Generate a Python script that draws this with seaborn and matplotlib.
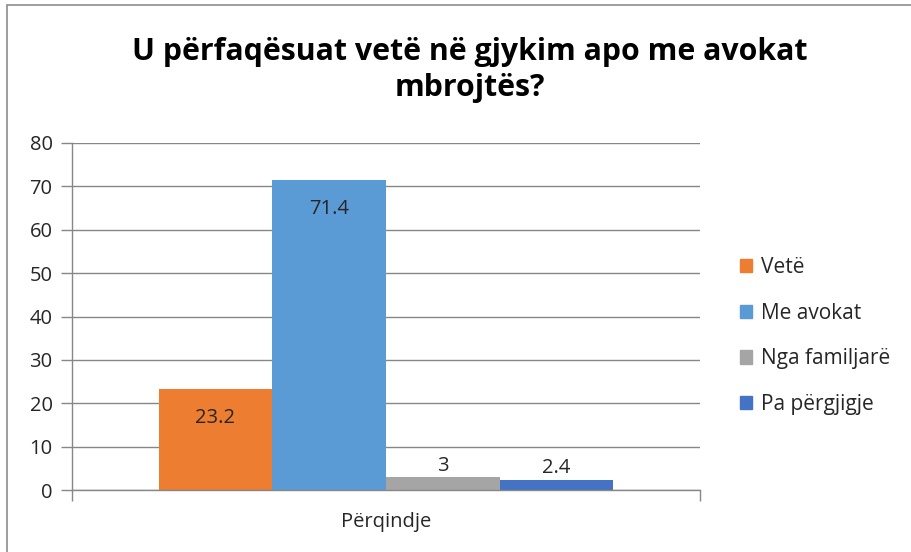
import matplotlib
matplotlib.use("Agg")
import matplotlib.pyplot as plt
import matplotlib.patches as mpatches
import pandas as pd
import seaborn as sns

# chart data
title = "U përfaqësuat vetë në gjykim apo me avokat\nmbrojtës?"
category = "Përqindje"
series = ["Vetë", "Me avokat", "Nga familjarë", "Pa përgjigje"]
values = [23.2, 71.4, 3, 2.4]
labels = ["23.2", "71.4", "3", "2.4"]
colors = ["#ED7D31", "#5B9BD5", "#A5A5A5", "#4472C4"]

sns.set_theme(style="white")
plt.rcParams["font.family"] = ["Open Sans", "DejaVu Sans"]

grid_col = "#878787"
text_col = "#262626"
fs = 14.5

data = pd.DataFrame({"cat": [category] * len(series), "series": series, "value": values})

fig = plt.figure(figsize=(9.12, 5.52), dpi=100)
ax = fig.add_axes([72 / 912, 1 - 490 / 552, 628 / 912, 347 / 552])

sns.barplot(data=data, x="cat", y="value", hue="series", hue_order=series,
            palette=colors, width=0.7245, saturation=1, legend=True, ax=ax)

for p in ax.patches:
    p.set_edgecolor("none")

# value labels, inside top for big bars, above for small ones
for cont, lab, v in zip(ax.containers, labels, values):
    if v > 10:
        ax.bar_label(cont, labels=[lab], label_type="edge", padding=-28,
                     fontsize=fs, color=text_col)
    else:
        ax.bar_label(cont, labels=[lab], label_type="edge", padding=1,
                     fontsize=fs, color=text_col)

ax.set_ylim(0, 80)
ax.set_xlim(-0.5, 0.5)
ax.set_yticks(range(0, 81, 10))
ax.yaxis.grid(True, color=grid_col, linewidth=1)
ax.set_axisbelow(True)
ax.set_xlabel("")
ax.set_ylabel("")
ax.tick_params(axis="y", left=True, length=8, width=1, color=grid_col,
               labelsize=fs, labelcolor=text_col, pad=6)
ax.set_xticks([0])
ax.set_xticklabels([category])
ax.set_xticks([-0.5, 0.5], minor=True)
ax.tick_params(axis="x", which="major", length=0, labelsize=fs,
               labelcolor=text_col, pad=16)
ax.tick_params(axis="x", which="minor", bottom=True, length=8, width=1, color=grid_col)

for side in ["top", "right"]:
    ax.spines[side].set_visible(False)
for side in ["left", "bottom"]:
    ax.spines[side].set_color(grid_col)
    ax.spines[side].set_linewidth(1)

handles = [mpatches.Patch(color=c, label=s) for c, s in zip(colors, series)]
ax.legend(handles=handles, loc="center left", bbox_to_anchor=(740 / 912, 1 - 336 / 552),
          bbox_transform=fig.transFigure, frameon=False, fontsize=15,
          borderaxespad=0, borderpad=0,
          handlelength=0.6, handleheight=0.6, handletextpad=0.4,
          labelspacing=1.18, labelcolor=text_col)

fig.text(470 / 912, 1 - 70 / 552, title, ha="center", va="center",
         fontsize=21.8, fontweight="bold", color="#000000", linespacing=1.25)

# outer chart border
fig.patches.append(mpatches.Rectangle((7 / 912, -0.05), 1.1, 1 - 5 / 552 + 0.05,
                                      transform=fig.transFigure, fill=False,
                                      edgecolor="#8c8c8c", linewidth=1.2))

fig.savefig("out.png", dpi=100)
